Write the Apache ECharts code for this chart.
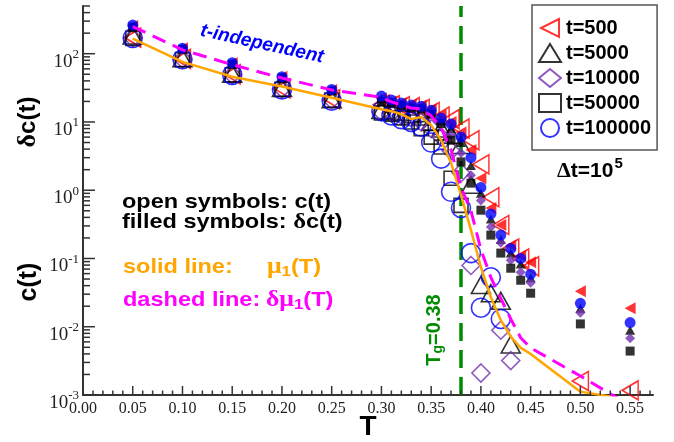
<!DOCTYPE html>
<html><head><meta charset="utf-8">
<script src="https://cdn.jsdelivr.net/npm/echarts@6/dist/echarts.min.js"></script>
<style>html,body{margin:0;padding:0;background:#fff}#c{width:674px;height:442px}</style>
</head><body><div id="c"></div>
<script>
// Temperatures
const T = [0.05,0.10,0.15,0.20,0.25,0.30,0.31,0.32,0.33,0.34,0.35,0.36,0.37,0.38,0.39,0.40,0.41,0.42,0.43,0.44,0.45,0.50,0.55];
// solid line mu1(T), dashed line delta mu1(T)
const mu1  = [166,76,46,33,22.6,15.4,14.4,13.0,11.0,11.8,9.0,5.4,2.5,0.85,0.26,0.075,0.027,0.0125,0.0072,0.0049,0.0040,0.00112,0.00085];
const dmu1 = [250,114,69,44,29.5,23,19.7,17.8,16,15.5,12.3,8.2,3.9,1.1,0.5,0.135,0.053,0.026,0.013,0.0069,0.0049,0.0019,0.0007];
// open symbols: c(t)
const c_t500    = [172,84,50,31,21.5,18,17.5,17,16.5,15.5,14,12,11,8,5.4,2.4,0.79,0.31,0.14,0.10,0.077,0.0016,0.00117];
const c_t5000   = [185,86,51,31.5,21.5,15,14.5,14,13,12,10,8,6.5,4.6,1.2,0.041,0.031,0.024,0.0055,null,null,null,null];
const c_t10000  = [170,83,49,30.5,21,14,13.5,12.5,11.5,10,8,6,3.8,1.8,0.079,0.0021,null,0.0089,0.0032,null,null,null,null];
const c_t50000  = [168,82,49,30,21,13.5,13,11.5,10,8,6.0,4.3,1.5,0.6,null,null,null,null,null,null,null,null,null];
const c_t100000 = [170,83,49,30,20.5,14.5,12.5,11,10,8.5,5.0,2.9,0.95,0.55,0.12,0.019,0.053,0.013,null,null,null,null,null];
// filled symbols: delta c(t)
const dc_t500    = [255,120,73,46,29.5,22,20,19,18,17.5,15.5,12.5,10,7,3.9,1.5,0.55,0.31,0.155,0.11,0.088,0.033,0.0186];
const dc_t5000   = [250,118,72,45,29,22,20,18.5,17,16.5,14,10.5,8,5,2.3,0.9,0.38,0.19,0.12,0.083,0.052,0.0186,0.0089];
const dc_t10000  = [248,117,71,45,29,21,19.5,18,16.5,16,13.5,10,6.4,3.5,1.66,0.71,0.29,0.17,0.094,0.063,0.044,0.016,0.0068];
const dc_t50000  = [245,116,70,44,28.5,20,19,17.5,16,15.5,13,9.5,5.4,2.6,1.27,0.51,0.22,0.12,0.072,0.048,0.031,0.011,0.0044];
const dc_t100000 = [263,120,74,46,30,24,21,19,17.7,17,14.8,11.4,9.3,6.0,3.0,1.1,0.45,0.22,0.14,0.10,0.059,0.022,0.0115];
// glass transition
const Tg = 0.38;
// axes
const xMin = 0, xMax = 0.573, yMin = 0.001, yMax = 500;
const xTicks = [0.00,0.05,0.10,0.15,0.20,0.25,0.30,0.35,0.40,0.45,0.50,0.55];
const yTicks = [0.001,0.01,0.1,1,10,100];

const xMinor = [];
for (let i = 1; i <= 57; i++) if (i % 5) xMinor.push(i / 100);
const yMinor = [];
for (let d = -3; d <= 2; d++) for (let m = 2; m <= 9; m++) { const v = m * Math.pow(10, d); if (v <= yMax) yMinor.push(v); }
const tickData = [];
xTicks.forEach(v => tickData.push([v, yMin, 0]));
xMinor.forEach(v => tickData.push([v, yMin, 1]));
yTicks.forEach(v => tickData.push([xMin, v, 2]));
yMinor.forEach(v => tickData.push([xMin, v, 3]));

const LEFT_TRI = 'path://M10,0 L0,5 L10,10 Z';
const pts = arr => T.map((t, i) => arr[i] == null ? null : [t, arr[i]]).filter(p => p);

function sc(name, arr, symbol, size, color, filled, z) {
  return {
    name, type: 'scatter', data: pts(arr), symbol, symbolSize: size, z,
    itemStyle: filled ? { color: color, borderWidth: 0 }
                      : { color: 'rgba(0,0,0,0)', borderColor: color, borderWidth: 1.6 }
  };
}
const RED = '#ff0000', BLK = '#000000', PUR = '#7030b0', BLU = '#0000ff';

const series = [
  sc('t=500', c_t500, LEFT_TRI, [16, 19], RED, false, 2),
  sc('t=5000', c_t5000, 'triangle', [19, 17], BLK, false, 2),
  sc('t=10000', c_t10000, 'diamond', [18, 18], PUR, false, 2),
  sc('t=50000', c_t50000, 'rect', [14, 14], BLK, false, 2),
  sc('t=100000', c_t100000, 'circle', 19, BLU, false, 2),
  sc('dc t=500', dc_t500, LEFT_TRI, [11, 12], RED, true, 3),
  sc('dc t=5000', dc_t5000, 'triangle', [10, 9], BLK, true, 3),
  sc('dc t=10000', dc_t10000, 'diamond', [10, 10], PUR, true, 3),
  sc('dc t=50000', dc_t50000, 'rect', [9, 9], BLK, true, 3),
  sc('dc t=100000', dc_t100000, 'circle', 11, BLU, true, 3),
  { name: 'mu1', type: 'line', data: pts(mu1), showSymbol: false, symbol: 'none', clip: true, z: 4,
    lineStyle: { color: '#ffa500', width: 2.5 } },
  { name: 'dmu1', type: 'line', data: pts(dmu1), showSymbol: false, symbol: 'none', clip: true, z: 4,
    lineStyle: { color: '#ff00ff', width: 3, type: [14, 8] } },
  { name: 'Tg', type: 'line', data: [[Tg, yMin], [Tg, yMax]], showSymbol: false, symbol: 'none', z: 1,
    lineStyle: { color: '#008c00', width: 3.5, type: [18, 9] } },
  { name: 'ticks', type: 'custom', data: tickData, encode: { x: 0, y: 1 }, silent: true, z: 5, clip: false,
    renderItem(params, api) {
      const k = api.value(2);
      const p = api.coord([api.value(0), api.value(1)]);
      let s;
      if (k === 0) s = { x1: p[0], y1: p[1], x2: p[0], y2: p[1] - 9 };
      else if (k === 1) s = { x1: p[0], y1: p[1], x2: p[0], y2: p[1] - 4.5 };
      else if (k === 2) s = { x1: p[0], y1: p[1], x2: p[0] + 12, y2: p[1] };
      else s = { x1: p[0], y1: p[1], x2: p[0] + 7, y2: p[1] };
      return { type: 'line', shape: s, style: { stroke: '#333', lineWidth: 1.5 } };
    } }
];

const SANS = 'Liberation Sans', SERIF = 'Liberation Serif';
function txt(x, y, text, opt) {
  return Object.assign({ type: 'text', x, y, silent: true, z: 100,
    style: Object.assign({ text, fontFamily: SANS, fontWeight: 'bold', fontSize: 21, fill: '#000',
      align: 'left', verticalAlign: 'middle', textAlign: 'left', textVerticalAlign: 'middle' }, opt.style || {}) },
    opt.el || {});
}
const greek = (size, color) => ({ fontFamily: SERIF, fontSize: size, fontWeight: 'bold', fill: color });
const sub = (size, color) => ({ fontFamily: SANS, fontSize: size, fontWeight: 'bold', fill: color, padding: [9, 0, 0, 0] });

const graphic = [
  txt(28, 122, '{g|δ}c(t)', { style: { fontSize: 24, align: 'center', textAlign: 'center', rich: { g: greek(26, '#000') } }, el: { rotation: Math.PI / 2 } }),
  txt(29, 282, 'c(t)', { style: { fontSize: 25, align: 'center', textAlign: 'center' }, el: { rotation: Math.PI / 2 } }),
  txt(368, 427, 'T', { style: { fontSize: 28, align: 'center', textAlign: 'center' } }),
  txt(262, 44, 't-independent', { style: { fontSize: 19, fontStyle: 'italic', fill: '#0000ff', align: 'center', textAlign: 'center' }, el: { rotation: -12.5 * Math.PI / 180 } }),
  txt(122, 202, 'open symbols: c(t)', { el: { scaleX: 1.12 } }),
  txt(122, 222, 'filled symbols: {g|δ}c(t)', { style: { rich: { g: greek(22, '#000') } }, el: { scaleX: 1.12 } }),
  txt(123, 267, 'solid line:', { style: { fill: '#ffa500' }, el: { scaleX: 1.12 } }),
  txt(267, 267, '{g|μ}{s|1}(T)', { style: { fill: '#ffa500', rich: { g: greek(23, '#ffa500'), s: sub(15, '#ffa500') } }, el: { scaleX: 1.12 } }),
  txt(123, 300, 'dashed line:', { style: { fill: '#ff00ff' }, el: { scaleX: 1.12 } }),
  txt(266, 300, '{g|δμ}{s|1}(T)', { style: { fill: '#ff00ff', rich: { g: greek(23, '#ff00ff'), s: sub(15, '#ff00ff') } }, el: { scaleX: 1.12 } }),
  txt(557, 171, '{g|Δ}t=10{p|5}', { style: { rich: { g: greek(22, '#000'), p: { fontFamily: SANS, fontWeight: 'bold', fontSize: 15, padding: [0, 0, 14, 1] } } } }),
  txt(434, 330, 'T{s|g}=0.38', { style: { fontSize: 20, fill: '#008c00', align: 'center', textAlign: 'center', rich: { s: sub(14, '#008c00') } }, el: { rotation: Math.PI / 2 } })
];

const chart = echarts.init(document.getElementById('c'), null, { renderer: 'canvas' });
chart.setOption({
  animation: false,
  backgroundColor: '#fff',
  grid: { left: 83, right: 21, top: 6, bottom: 47, containLabel: false, outerBoundsMode: 'none' },
  xAxis: {
    type: 'value', min: xMin, max: xMax, interval: 0.05,
    axisLine: { show: true, lineStyle: { color: '#333', width: 2 } },
    axisTick: { show: false }, splitLine: { show: false },
    axisLabel: {
      margin: 6, fontFamily: SERIF, fontSize: 16, color: '#222',
      formatter: v => (Math.abs(v * 20 - Math.round(v * 20)) < 1e-6 ? v.toFixed(2) : '')
    }
  },
  yAxis: {
    type: 'log', logBase: 10, min: yMin, max: yMax,
    axisLine: { show: true, lineStyle: { color: '#333', width: 2 } },
    axisTick: { show: false }, splitLine: { show: false },
    axisLabel: {
      margin: 4, color: '#222',
      formatter: v => {
        const e = Math.round(Math.log10(v));
        if (Math.abs(v / Math.pow(10, e) - 1) > 1e-6) return '';
        return '{b|10}{s|' + e + '}';
      },
      rich: {
        b: { fontFamily: SERIF, fontSize: 19, color: '#222', padding: [16, 0, 0, 0] },
        s: { fontFamily: SERIF, fontSize: 13, color: '#222', padding: [2, 0, 0, 0] }
      }
    }
  },
  legend: {
    data: ['t=500', 't=5000', 't=10000', 't=50000', 't=100000'],
    orient: 'vertical', left: 532, top: 5,
    padding: [13, 6, 12, 6], itemGap: 5, itemWidth: 22, itemHeight: 18,
    backgroundColor: '#fff', borderColor: '#555', borderWidth: 1.5,
    textStyle: { fontFamily: SANS, fontWeight: 'bold', fontSize: 20, color: '#000', lineHeight: 20 },
    selectedMode: false
  },
  series,
  graphic
});
</script></body></html>
